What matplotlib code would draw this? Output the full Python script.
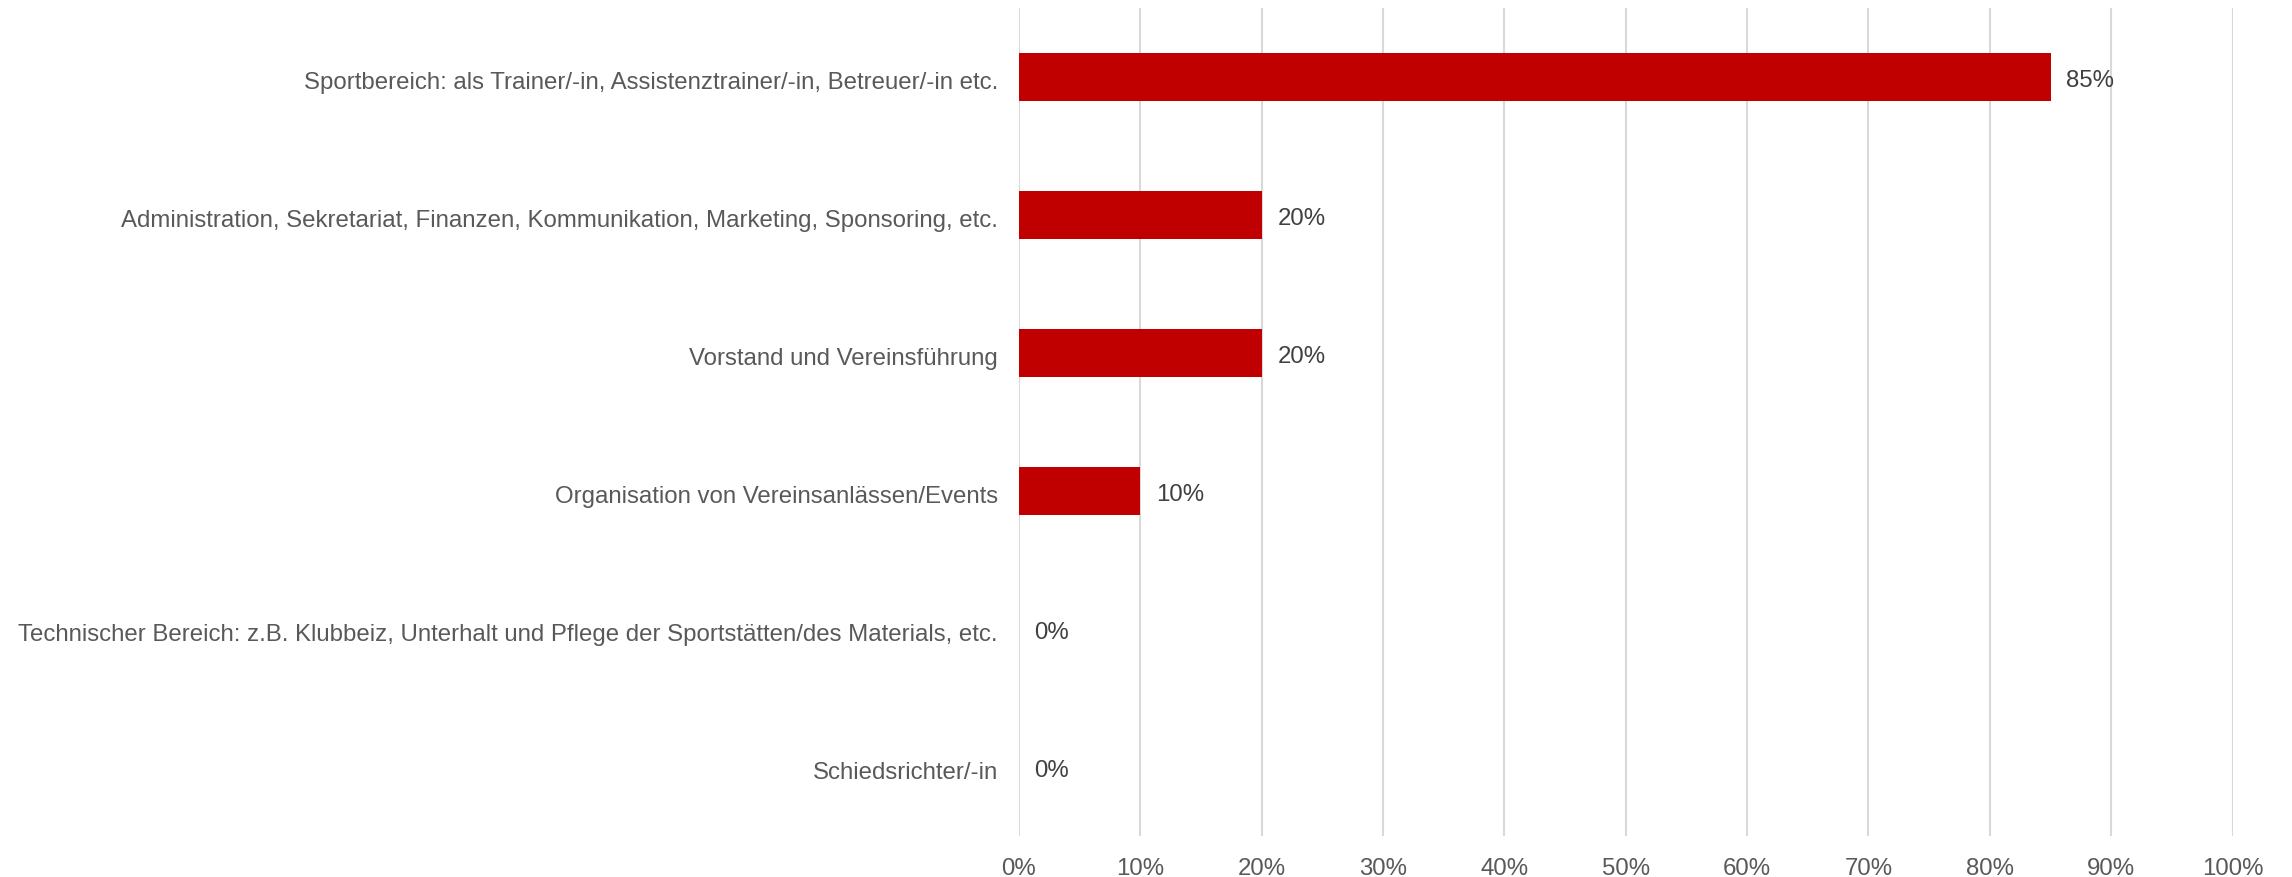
import matplotlib
matplotlib.use('Agg')
from matplotlib import pyplot as plt
from matplotlib.ticker import PercentFormatter
from matplotlib.transforms import ScaledTranslation

plt.rcParams['font.family'] = ['Liberation Sans', 'DejaVu Sans']

# Daten
kategorien = [
    'Sportbereich: als Trainer/-in, Assistenztrainer/-in, Betreuer/-in etc.',
    'Administration, Sekretariat, Finanzen, Kommunikation, Marketing, Sponsoring, etc.',
    'Vorstand und Vereinsführung',
    'Organisation von Vereinsanlässen/Events',
    'Technischer Bereich: z.B. Klubbeiz, Unterhalt und Pflege der Sportstätten/des Materials, etc.',
    'Schiedsrichter/-in',
]
werte = [85, 20, 20, 10, 0, 0]
x_ticks = [0, 10, 20, 30, 40, 50, 60, 70, 80, 90, 100]

fig = plt.figure(figsize=(22.92, 8.78), dpi=100)
ax = fig.add_axes([0.4445, 0.0470, 0.9741 - 0.4445, 0.9898 - 0.0470])

# Texte etwas nach unten schieben (wie im Original)
runter = ScaledTranslation(0, -3 / 100, fig.dpi_scale_trans)

pos = list(range(len(kategorien)))
ax.barh(pos, werte, height=0.35, color='#c00000', zorder=3)

for p, w in zip(pos, werte):
    ax.text(w + 1.3, p, f'{w}%', va='center', ha='left', fontsize=17.3,
            color='#404040', transform=ax.transData + runter)

ax.set_xlim(0, 100)
ax.set_ylim(len(kategorien) - 0.5, -0.5)
ax.set_xticks(x_ticks)
ax.xaxis.set_major_formatter(PercentFormatter(decimals=0))
ax.set_yticks(pos)
ax.set_yticklabels(kategorien)
ax.tick_params(axis='both', length=0, labelsize=17.3, colors='#595959')
ax.tick_params(axis='x', pad=15.5)
ax.tick_params(axis='y', pad=15)
for lbl in ax.get_yticklabels():
    lbl.set_transform(lbl.get_transform() + runter)
ax.grid(axis='x', color='#d9d9d9', linewidth=1.5, zorder=0)
for s in ax.spines.values():
    s.set_visible(False)

fig.savefig('out.png', dpi=100)
